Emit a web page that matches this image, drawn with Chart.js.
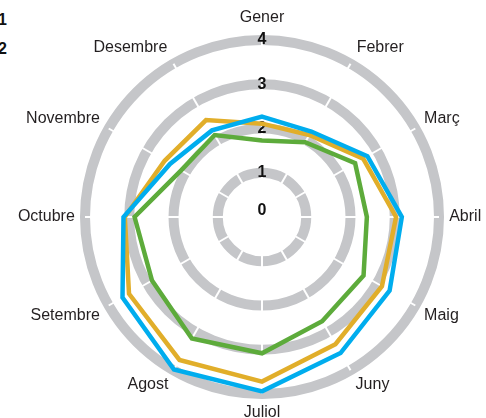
<!DOCTYPE html>
<html>
<head>
<meta charset="utf-8">
<script src="https://cdn.jsdelivr.net/npm/chart.js@4/dist/chart.umd.min.js"></script>
<style>
  html, body { margin: 0; padding: 0; background: #ffffff; }
  #wrap { position: relative; width: 486px; height: 418px; overflow: hidden; }
  #c { position: absolute; left: 17px; top: 10px; }
  #legend { position: absolute; left: -61px; top: 4.5px; width: 68px; text-align: right;
            font: bold 16px "Liberation Sans", Arial, sans-serif; color: #111; line-height: 29.5px; }
</style>
</head>
<body>
<div id="wrap">
  <canvas id="c" width="491" height="415"></canvas>
  <div id="legend"><div>1</div><div>2</div></div>
</div>
<script>
const months = ["Gener", "Febrer", "Març", "Abril", "Maig", "Juny", "Juliol", "Agost", "Setembre", "Octubre", "Novembre", "Desembre"];
const seriesYellow = [2.11, 2.14, 2.64, 3.03, 3.13, 3.32, 3.72, 3.73, 3.47, 3.10, 2.54, 2.53];
const seriesBlue   = [2.27, 2.23, 2.75, 3.16, 3.33, 3.55, 3.94, 3.98, 3.64, 3.13, 2.40, 2.26];
const seriesGreen  = [1.73, 1.95, 2.43, 2.37, 2.65, 2.72, 3.08, 3.17, 2.87, 2.88, 2.11, 2.14];
const tickMin = 0, tickMax = 4, tickStep = 1;
const centerTickLabel = "0";

// small per-label radial nudges (pixels) for the month labels
const labelNudge = { 0: 6.8, 1: 2.2, 6: 3.3, 11: 2.2 };

const centerZero = {
  id: 'centerZero',
  afterDraw(chart) {
    const s = chart.scales.r;
    const ctx = chart.ctx;
    ctx.save();
    ctx.font = 'bold 16px "Liberation Sans", Arial, sans-serif';
    ctx.fillStyle = '#111';
    ctx.textAlign = 'center';
    ctx.textBaseline = 'middle';
    ctx.fillText(centerTickLabel, s.xCenter, s.yCenter - 6);
    ctx.restore();
  }
};

new Chart(document.getElementById('c'), {
  type: 'radar',
  data: {
    labels: months,
    datasets: [
      { label: '1', data: seriesYellow, borderColor: '#e1ae2a', order: 1 },
      { label: '2', data: seriesBlue, borderColor: '#00adee', order: 0 },
      { label: '3', data: seriesGreen, borderColor: '#5dab3b', order: 2 }
    ]
  },
  options: {
    responsive: false,
    animation: false,
    layout: { padding: { left: 0.3, right: 0, top: 0.4, bottom: 0 } },
    elements: {
      line: { borderWidth: 4.5, fill: false, tension: 0, borderJoinStyle: 'miter' },
      point: { radius: 0, hoverRadius: 0 }
    },
    plugins: { legend: { display: false }, tooltip: { enabled: false } },
    scales: {
      r: {
        min: tickMin, max: tickMax,
        grid: { circular: true, color: '#c5c6c9', lineWidth: 10 },
        angleLines: { display: true, color: '#ffffff', lineWidth: 2 },
        ticks: {
          stepSize: tickStep,
          showLabelBackdrop: false,
          backdropPadding: 22.2,
          color: '#111',
          font: { family: '"Liberation Sans", Arial, sans-serif', size: 16, weight: 'bold' }
        },
        pointLabels: {
          padding: (ctx) => -20 + (labelNudge[ctx.index] || 0),
          color: '#231f20',
          font: { family: '"Liberation Sans", Arial, sans-serif', size: 16, lineHeight: 0.65 }
        }
      }
    }
  },
  plugins: [centerZero]
});
</script>
</body>
</html>
